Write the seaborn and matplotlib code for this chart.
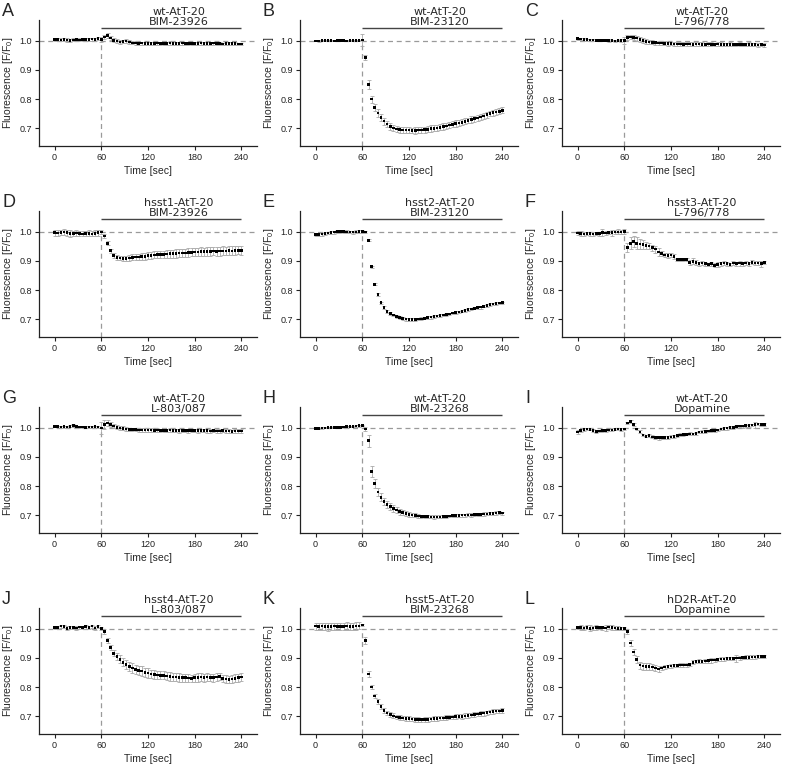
import pandas as pd
import matplotlib.pyplot as plt
import seaborn as sns

sns.set_style("ticks")
plt.rcParams["font.family"] = ["Liberation Sans", "DejaVu Sans"]
plt.rcParams["mathtext.fontset"] = "custom"
plt.rcParams["mathtext.rm"] = "Liberation Sans"
plt.rcParams["mathtext.it"] = "Liberation Sans:italic"

# =========================
# DATA (one point every 4 s)
# =========================
time_sec = list(range(0, 241, 4))

panel_letters = ["A", "B", "C", "D", "E", "F", "G", "H", "I", "J", "K", "L"]
cell_lines = ["wt-AtT-20", "wt-AtT-20", "wt-AtT-20",
              "hsst1-AtT-20", "hsst2-AtT-20", "hsst3-AtT-20",
              "wt-AtT-20", "wt-AtT-20", "wt-AtT-20",
              "hsst4-AtT-20", "hsst5-AtT-20", "hD2R-AtT-20"]
agonists = ["BIM-23926", "BIM-23120", "L-796/778",
            "BIM-23926", "BIM-23120", "L-796/778",
            "L-803/087", "BIM-23268", "Dopamine",
            "L-803/087", "BIM-23268", "Dopamine"]

a_mean = [1.004, 1.003, 1.002, 1.003, 1.002, 1.001, 1.002, 1.003, 1.002, 1.003, 1.004, 1.004, 1.005, 1.004, 1.006,
          1.003, 1.012, 1.018, 1.008, 1.001, 0.998, 0.995, 0.996, 0.999, 0.995,
          0.992, 0.991, 0.990, 0.991, 0.990, 0.990, 0.989, 0.990, 0.991, 0.990, 0.989,
          0.990, 0.991, 0.990, 0.989, 0.990, 0.991, 0.990, 0.989, 0.990, 0.990, 0.989, 0.991, 0.990,
          0.989, 0.990, 0.991, 0.990, 0.989, 0.988, 0.990, 0.990, 0.989, 0.989, 0.988, 0.988]
a_err = [0.005, 0.006, 0.005, 0.005, 0.006, 0.005, 0.005, 0.006, 0.005, 0.005, 0.006, 0.005, 0.005, 0.006, 0.005,
         0.008, 0.008, 0.009, 0.007, 0.006, 0.006, 0.006, 0.005, 0.007, 0.006,
         0.005, 0.006, 0.005, 0.005, 0.006, 0.005, 0.006, 0.005, 0.005, 0.006, 0.005,
         0.005, 0.006, 0.005, 0.005, 0.006, 0.005, 0.005, 0.006, 0.005, 0.005, 0.006, 0.005, 0.005,
         0.006, 0.005, 0.005, 0.006, 0.005, 0.005, 0.006, 0.005, 0.005, 0.006, 0.005, 0.005]

b_mean = [0.999, 0.999, 1.000, 1.001, 1.000, 1.000, 0.999, 1.000, 1.000, 1.000, 0.999, 1.000, 1.000, 1.001, 1.000,
          1.002, 0.942, 0.850, 0.800, 0.772, 0.752, 0.737, 0.725, 0.715, 0.707,
          0.702, 0.698, 0.696, 0.695, 0.694, 0.694, 0.693, 0.693, 0.694, 0.694, 0.696,
          0.697, 0.699, 0.700, 0.702, 0.704, 0.706, 0.708, 0.711, 0.714, 0.717, 0.719, 0.721, 0.724,
          0.727, 0.730, 0.733, 0.736, 0.739, 0.742, 0.747, 0.751, 0.754, 0.756, 0.758, 0.762]
b_err = [0.002, 0.003, 0.002, 0.002, 0.003, 0.002, 0.002, 0.002, 0.003, 0.002, 0.002, 0.003, 0.002, 0.002, 0.003,
         0.020, 0.008, 0.014, 0.012, 0.012, 0.013, 0.012, 0.012, 0.011, 0.011,
         0.011, 0.011, 0.010, 0.010, 0.011, 0.010, 0.010, 0.011, 0.010, 0.010, 0.010,
         0.010, 0.011, 0.010, 0.010, 0.010, 0.011, 0.010, 0.010, 0.010, 0.011, 0.010, 0.010, 0.010,
         0.010, 0.011, 0.010, 0.010, 0.010, 0.011, 0.010, 0.010, 0.010, 0.011, 0.010, 0.010]

c_mean = [1.006, 1.005, 1.004, 1.003, 1.002, 1.002, 1.001, 1.001, 1.000, 1.000, 1.000, 1.000, 0.999, 1.000, 1.000,
          1.000, 1.010, 1.012, 1.011, 1.008, 1.004, 1.000, 0.997, 0.995, 0.994,
          0.993, 0.992, 0.991, 0.990, 0.989, 0.989, 0.988, 0.988, 0.988, 0.987, 0.988,
          0.988, 0.987, 0.988, 0.988, 0.987, 0.987, 0.988, 0.987, 0.987, 0.988, 0.987, 0.987, 0.986,
          0.987, 0.987, 0.986, 0.987, 0.986, 0.986, 0.987, 0.986, 0.986, 0.985, 0.986, 0.985]
c_err = [0.003, 0.003, 0.004, 0.003, 0.003, 0.003, 0.004, 0.003, 0.003, 0.003, 0.004, 0.003, 0.003, 0.003, 0.004,
         0.012, 0.008, 0.008, 0.008, 0.008, 0.008, 0.008, 0.008, 0.008, 0.007,
         0.007, 0.007, 0.006, 0.007, 0.007, 0.006, 0.007, 0.007, 0.006, 0.007, 0.007,
         0.006, 0.007, 0.006, 0.006, 0.007, 0.006, 0.006, 0.007, 0.006, 0.006, 0.007, 0.006, 0.006,
         0.007, 0.006, 0.006, 0.007, 0.006, 0.006, 0.007, 0.006, 0.006, 0.007, 0.006, 0.006]

d_mean = [0.996, 0.995, 0.997, 0.998, 0.996, 0.993, 0.994, 0.995, 0.993, 0.992, 0.993, 0.994, 0.992, 0.994, 0.996,
          0.998, 0.985, 0.960, 0.935, 0.918, 0.912, 0.910, 0.908, 0.908, 0.910,
          0.912, 0.913, 0.913, 0.914, 0.915, 0.918, 0.919, 0.920, 0.921, 0.921, 0.922,
          0.923, 0.924, 0.924, 0.925, 0.926, 0.926, 0.927, 0.928, 0.929, 0.930, 0.930, 0.931, 0.931,
          0.932, 0.932, 0.933, 0.932, 0.933, 0.934, 0.934, 0.935, 0.934, 0.935, 0.936, 0.935]
d_err = [0.010, 0.011, 0.009, 0.010, 0.010, 0.011, 0.009, 0.010, 0.010, 0.009, 0.010, 0.011, 0.009, 0.010, 0.010,
         0.006, 0.006, 0.007, 0.007, 0.008, 0.008, 0.008, 0.008, 0.009, 0.009,
         0.010, 0.010, 0.011, 0.011, 0.011, 0.012, 0.012, 0.012, 0.013, 0.013, 0.013,
         0.013, 0.014, 0.014, 0.014, 0.014, 0.014, 0.015, 0.015, 0.014, 0.015, 0.015, 0.015, 0.014,
         0.015, 0.015, 0.014, 0.015, 0.015, 0.015, 0.014, 0.015, 0.015, 0.015, 0.014, 0.015]

e_mean = [0.990, 0.990, 0.991, 0.993, 0.995, 0.997, 0.998, 1.000, 1.001, 1.000, 0.999, 0.998, 0.998, 0.999, 1.000,
          1.000, 0.998, 0.970, 0.880, 0.820, 0.785, 0.757, 0.740, 0.728, 0.720,
          0.715, 0.710, 0.706, 0.703, 0.701, 0.700, 0.700, 0.700, 0.701, 0.702, 0.704,
          0.706, 0.708, 0.710, 0.711, 0.713, 0.715, 0.717, 0.719, 0.722, 0.724, 0.726, 0.728, 0.730,
          0.733, 0.735, 0.738, 0.740, 0.742, 0.745, 0.747, 0.750, 0.752, 0.754, 0.756, 0.757]
e_err = [0.005, 0.006, 0.005, 0.004, 0.005, 0.006, 0.005, 0.004, 0.005, 0.006, 0.005, 0.004, 0.005, 0.005, 0.004,
         0.005, 0.004, 0.003, 0.003, 0.003, 0.004, 0.004, 0.005, 0.005, 0.005,
         0.005, 0.005, 0.005, 0.004, 0.005, 0.005, 0.006, 0.005, 0.004, 0.005, 0.004,
         0.004, 0.005, 0.004, 0.004, 0.004, 0.005, 0.004, 0.004, 0.004, 0.005, 0.004, 0.004, 0.004,
         0.005, 0.004, 0.004, 0.004, 0.005, 0.004, 0.004, 0.005, 0.004, 0.004, 0.005, 0.004]

f_mean = [0.995, 0.993, 0.992, 0.994, 0.993, 0.992, 0.994, 0.993, 0.996, 0.995, 0.997, 0.996, 0.998, 0.999, 0.998,
          1.000, 0.945, 0.960, 0.965, 0.960, 0.958, 0.955, 0.952, 0.950, 0.945,
          0.940, 0.930, 0.925, 0.920, 0.918, 0.920, 0.915, 0.905, 0.905, 0.905, 0.905,
          0.895, 0.898, 0.895, 0.890, 0.893, 0.890, 0.888, 0.890, 0.885, 0.888, 0.890, 0.892, 0.890,
          0.888, 0.893, 0.890, 0.892, 0.890, 0.893, 0.890, 0.895, 0.892, 0.893, 0.890, 0.895]
f_err = [0.006, 0.008, 0.007, 0.006, 0.007, 0.008, 0.006, 0.007, 0.012, 0.008, 0.006, 0.010, 0.007, 0.008, 0.006,
         0.010, 0.015, 0.020, 0.018, 0.020, 0.018, 0.015, 0.012, 0.010, 0.010,
         0.012, 0.015, 0.010, 0.008, 0.008, 0.007, 0.008, 0.006, 0.006, 0.006, 0.006,
         0.008, 0.010, 0.008, 0.006, 0.007, 0.006, 0.006, 0.007, 0.006, 0.008, 0.006, 0.007, 0.006,
         0.006, 0.007, 0.006, 0.008, 0.006, 0.007, 0.006, 0.007, 0.006, 0.008, 0.010, 0.006]

g_mean = [1.004, 1.003, 1.002, 1.003, 1.002, 1.004, 1.007, 1.003, 1.002, 1.002, 1.001, 1.002, 1.002, 1.003, 1.002,
          0.998, 1.010, 1.015, 1.010, 1.005, 1.001, 0.999, 0.997, 0.995, 0.994,
          0.993, 0.993, 0.992, 0.992, 0.992, 0.991, 0.991, 0.990, 0.991, 0.990, 0.990,
          0.990, 0.991, 0.990, 0.990, 0.989, 0.990, 0.990, 0.989, 0.990, 0.989, 0.989, 0.990, 0.989,
          0.989, 0.988, 0.989, 0.988, 0.988, 0.989, 0.988, 0.988, 0.987, 0.988, 0.988, 0.988]
g_err = [0.003, 0.003, 0.004, 0.003, 0.003, 0.003, 0.004, 0.003, 0.003, 0.003, 0.004, 0.003, 0.003, 0.003, 0.004,
         0.020, 0.015, 0.010, 0.008, 0.007, 0.006, 0.006, 0.007, 0.006, 0.006,
         0.006, 0.006, 0.007, 0.006, 0.006, 0.006, 0.007, 0.006, 0.006, 0.006, 0.007,
         0.006, 0.007, 0.006, 0.006, 0.007, 0.006, 0.006, 0.007, 0.006, 0.006, 0.007, 0.006, 0.006,
         0.007, 0.006, 0.006, 0.007, 0.006, 0.006, 0.007, 0.006, 0.006, 0.007, 0.006, 0.006]

h_mean = [0.997, 0.997, 0.998, 0.999, 1.000, 1.000, 1.001, 1.000, 1.001, 1.002, 1.003, 1.003, 1.004, 1.005, 1.006,
          1.007, 0.995, 0.955, 0.850, 0.808, 0.780, 0.762, 0.748, 0.738, 0.730,
          0.724, 0.718, 0.713, 0.709, 0.706, 0.704, 0.702, 0.700, 0.698, 0.697, 0.696,
          0.696, 0.695, 0.695, 0.695, 0.695, 0.696, 0.697, 0.698, 0.699, 0.700, 0.700, 0.701, 0.701,
          0.702, 0.702, 0.703, 0.703, 0.704, 0.705, 0.705, 0.706, 0.707, 0.708, 0.709, 0.708]
h_err = [0.002, 0.002, 0.003, 0.002, 0.002, 0.002, 0.003, 0.002, 0.002, 0.002, 0.003, 0.002, 0.002, 0.002, 0.003,
         0.003, 0.006, 0.020, 0.018, 0.016, 0.015, 0.014, 0.013, 0.012, 0.012,
         0.011, 0.010, 0.010, 0.009, 0.008, 0.008, 0.007, 0.007, 0.006, 0.006, 0.006,
         0.005, 0.005, 0.006, 0.005, 0.005, 0.005, 0.006, 0.005, 0.005, 0.005, 0.006, 0.005, 0.005,
         0.005, 0.006, 0.005, 0.005, 0.005, 0.006, 0.005, 0.005, 0.005, 0.006, 0.005, 0.005]

i_mean = [0.985, 0.990, 0.993, 0.995, 0.994, 0.990, 0.986, 0.988, 0.990, 0.990, 0.991, 0.992, 0.994, 0.995, 0.993,
          0.995, 1.015, 1.020, 1.010, 0.995, 0.985, 0.975, 0.970, 0.972, 0.968,
          0.965, 0.965, 0.965, 0.965, 0.966, 0.968, 0.970, 0.972, 0.975, 0.976, 0.977,
          0.978, 0.978, 0.980, 0.985, 0.985, 0.986, 0.988, 0.990, 0.990, 0.992, 0.995, 0.997, 0.998,
          1.000, 1.000, 1.003, 1.005, 1.005, 1.006, 1.007, 1.008, 1.010, 1.012, 1.010, 1.010]
i_err = [0.006, 0.005, 0.004, 0.005, 0.004, 0.005, 0.006, 0.005, 0.004, 0.005, 0.004, 0.005, 0.004, 0.005, 0.004,
         0.004, 0.004, 0.005, 0.004, 0.004, 0.005, 0.004, 0.004, 0.005, 0.005,
         0.005, 0.006, 0.005, 0.005, 0.006, 0.005, 0.005, 0.004, 0.005, 0.005, 0.004,
         0.005, 0.004, 0.005, 0.004, 0.005, 0.004, 0.005, 0.004, 0.005, 0.004, 0.005, 0.004, 0.005,
         0.004, 0.005, 0.006, 0.004, 0.005, 0.004, 0.005, 0.004, 0.010, 0.005, 0.004, 0.005]

j_mean = [1.003, 1.004, 1.008, 1.006, 1.001, 1.003, 1.004, 1.002, 1.005, 1.003, 1.006, 1.004, 1.008, 1.002, 1.006,
          1.000, 0.990, 0.960, 0.935, 0.915, 0.905, 0.895, 0.885, 0.878, 0.870,
          0.865, 0.860, 0.857, 0.855, 0.850, 0.848, 0.845, 0.843, 0.842, 0.840, 0.840,
          0.838, 0.836, 0.835, 0.834, 0.833, 0.832, 0.832, 0.831, 0.830, 0.832, 0.833, 0.834, 0.832,
          0.835, 0.833, 0.832, 0.834, 0.836, 0.830, 0.828, 0.826, 0.828, 0.830, 0.832, 0.835]
j_err = [0.005, 0.006, 0.005, 0.005, 0.006, 0.005, 0.005, 0.006, 0.005, 0.005, 0.006, 0.005, 0.005, 0.006, 0.005,
         0.006, 0.008, 0.008, 0.008, 0.010, 0.012, 0.013, 0.014, 0.015, 0.015,
         0.016, 0.016, 0.015, 0.016, 0.015, 0.016, 0.015, 0.015, 0.014, 0.014, 0.014,
         0.013, 0.014, 0.013, 0.013, 0.014, 0.013, 0.013, 0.014, 0.013, 0.013, 0.014, 0.013, 0.013,
         0.014, 0.013, 0.013, 0.014, 0.013, 0.013, 0.014, 0.013, 0.013, 0.014, 0.013, 0.013]

k_mean = [1.008, 1.007, 1.008, 1.007, 1.006, 1.007, 1.008, 1.007, 1.006, 1.007, 1.008, 1.007, 1.006, 1.008, 1.009,
          1.012, 0.960, 0.845, 0.800, 0.770, 0.750, 0.733, 0.720, 0.712, 0.706,
          0.702, 0.698, 0.696, 0.694, 0.693, 0.692, 0.691, 0.690, 0.690, 0.689, 0.689,
          0.690, 0.691, 0.692, 0.693, 0.694, 0.695, 0.696, 0.697, 0.698, 0.699, 0.700, 0.700, 0.702,
          0.703, 0.705, 0.706, 0.708, 0.709, 0.711, 0.713, 0.715, 0.717, 0.718, 0.719, 0.721]
k_err = [0.012, 0.013, 0.012, 0.012, 0.013, 0.012, 0.012, 0.013, 0.012, 0.012, 0.013, 0.012, 0.012, 0.013, 0.012,
         0.005, 0.012, 0.010, 0.008, 0.008, 0.008, 0.009, 0.009, 0.008, 0.008,
         0.008, 0.008, 0.008, 0.007, 0.008, 0.008, 0.007, 0.008, 0.008, 0.007, 0.008,
         0.008, 0.007, 0.008, 0.008, 0.007, 0.008, 0.008, 0.007, 0.008, 0.008, 0.007, 0.008, 0.008,
         0.007, 0.008, 0.008, 0.007, 0.008, 0.008, 0.007, 0.008, 0.008, 0.007, 0.008, 0.008]

l_mean = [1.004, 1.003, 1.002, 1.004, 1.001, 1.002, 1.003, 1.004, 1.003, 1.002, 1.005, 1.003, 1.002, 1.001, 1.000,
          1.000, 0.990, 0.950, 0.920, 0.895, 0.875, 0.872, 0.870, 0.870, 0.868,
          0.865, 0.862, 0.865, 0.868, 0.870, 0.872, 0.873, 0.874, 0.875, 0.875, 0.876,
          0.878, 0.885, 0.887, 0.888, 0.888, 0.889, 0.890, 0.892, 0.893, 0.895, 0.896, 0.896, 0.897,
          0.898, 0.898, 0.899, 0.900, 0.901, 0.902, 0.902, 0.903, 0.903, 0.904, 0.905, 0.905]
l_err = [0.006, 0.008, 0.006, 0.007, 0.010, 0.006, 0.008, 0.006, 0.007, 0.009, 0.006, 0.008, 0.006, 0.007, 0.006,
         0.004, 0.008, 0.010, 0.010, 0.012, 0.012, 0.012, 0.012, 0.011, 0.010,
         0.010, 0.010, 0.008, 0.006, 0.006, 0.006, 0.006, 0.006, 0.008, 0.006, 0.006,
         0.006, 0.006, 0.006, 0.007, 0.006, 0.006, 0.006, 0.008, 0.006, 0.006, 0.006, 0.007, 0.006,
         0.006, 0.006, 0.012, 0.006, 0.006, 0.006, 0.006, 0.006, 0.006, 0.006, 0.006, 0.006]

means = [a_mean, b_mean, c_mean, d_mean, e_mean, f_mean, g_mean, h_mean, i_mean, j_mean, k_mean, l_mean]
errs = [a_err, b_err, c_err, d_err, e_err, f_err, g_err, h_err, i_err, j_err, k_err, l_err]

# agonist application and reference levels
t_on = 60
t_off = 240
bar_level = 1.044

# =========================
# LAYOUT (pixel boxes)
# =========================
W, H = 786, 769
col_left = [39, 300, 562]
row_top = [20, 211, 407, 608]
ax_w, ax_h = 218, 126

fig = plt.figure(figsize=(W / 100, H / 100), dpi=100)

for i in range(12):
    r, c = divmod(i, 3)
    left = col_left[c] / W
    bottom = 1 - (row_top[r] + ax_h) / H
    ax = fig.add_axes([left, bottom, ax_w / W, ax_h / H])

    df = pd.DataFrame({"Time": time_sec, "F": means[i], "err": errs[i]})

    ax.set_xlim(-20, 260)
    ax.set_ylim(0.64, 1.07)

    # reference lines
    ax.axhline(1.0, color="#9a9a9a", lw=0.9, ls=(0, (4, 3)), zorder=1)
    ax.vlines(t_on, 0.64, 1.0, color="#9a9a9a", lw=0.9, ls=(0, (4, 3)), zorder=1)

    ax.errorbar(df["Time"], df["F"], yerr=df["err"], fmt="none",
                ecolor="#a8a8a8", elinewidth=0.6, capsize=1.3, capthick=0.6, zorder=2)
    sns.scatterplot(data=df, x="Time", y="F", marker="s", s=3.5, color="black",
                    edgecolor="none", legend=False, ax=ax, zorder=3)

    # agonist bar and label
    ax.hlines(bar_level, t_on, t_off, color="#444444", lw=1.0, clip_on=False)
    ax.text(160, bar_level + 0.002, cell_lines[i] + "\n" + agonists[i],
            ha="center", va="bottom", fontsize=8, family="DejaVu Sans",
            linespacing=1.0, clip_on=False)

    ax.set_xticks([0, 60, 120, 180, 240])
    ax.set_yticks([0.7, 0.8, 0.9, 1.0])
    ax.set_yticklabels(["0.7", "0.8", "0.9", "1.0"])
    ax.tick_params(labelsize=6.5, length=3, width=0.8, pad=2, colors="#222222")
    ax.set_xlabel("Time [sec]", fontsize=7.5, labelpad=3)
    ax.set_ylabel("Fluorescence [F/F$_0$]", fontsize=7.5, labelpad=3)
    sns.despine(ax=ax)
    for sp in ["left", "bottom"]:
        ax.spines[sp].set_linewidth(0.9)
        ax.spines[sp].set_color("#222222")

    fig.text((col_left[c] - 37) / W, 1 - (row_top[r] - 17) / H, panel_letters[i],
             fontsize=13, ha="left", va="top")

plt.savefig("out.png", dpi=100)
